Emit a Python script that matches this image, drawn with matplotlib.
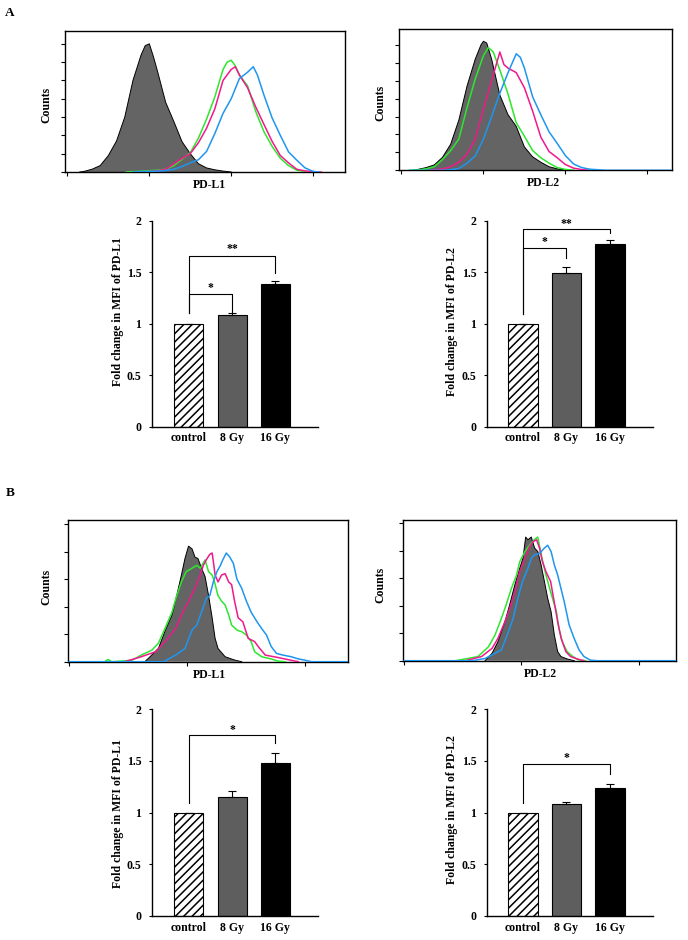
import matplotlib
matplotlib.use('Agg')
import matplotlib.pyplot as plt

plt.rcParams['font.family'] = ['Liberation Serif', 'DejaVu Serif']
plt.rcParams['font.weight'] = 'bold'
plt.rcParams['hatch.linewidth'] = 1.1

W, H = 688, 940

# ---------------- bar chart data ----------------
groups = ['control', '8 Gy', '16 Gy']
a_pdl1_mean = [1.00, 1.08, 1.385]
a_pdl1_err = [0.0, 0.022, 0.025]
a_pdl2_mean = [1.00, 1.49, 1.77]
a_pdl2_err = [0.0, 0.058, 0.042]
b_pdl1_mean = [1.00, 1.155, 1.484]
b_pdl1_err = [0.0, 0.055, 0.09]
b_pdl2_mean = [1.00, 1.081, 1.242]
b_pdl2_err = [0.0, 0.025, 0.035]

# significance brackets: (from, to, bracket height, left end, right end, label, label height)
a_pdl1_sig = [(0, 1, 1.285, 1.10, 1.107, '*', 1.375), (0, 2, 1.657, 1.10, 1.488, '**', 1.76)]
a_pdl2_sig = [(0, 1, 1.731, 1.094, 1.634, '*', 1.82), (0, 2, 1.916, 1.094, 1.877, '**', 2.0)]
b_pdl1_sig = [(0, 2, 1.752, 1.097, 1.671, '*', 1.83)]
b_pdl2_sig = [(0, 2, 1.468, 1.097, 1.371, '*', 1.56)]

# ---------------- histogram data (x: log10 fluorescence, y: counts in tick units) ----------------
# A, PD-L1
a1_gray_x = [0.15, 0.2, 0.3, 0.4, 0.5, 0.6, 0.7, 0.8, 0.9, 0.95, 1.0, 1.05, 1.1, 1.2, 1.3, 1.4, 1.5, 1.6, 1.7, 1.8, 1.9, 2.0]
a1_gray_y = [0, 0.03, 0.15, 0.35, 0.9, 1.7, 3.0, 5.0, 6.4, 6.9, 7.0, 6.3, 5.5, 3.8, 2.75, 1.65, 1.0, 0.45, 0.22, 0.12, 0.05, 0]
a1_green_x = [0.72, 0.8, 0.9, 1.0, 1.1, 1.2, 1.3, 1.4, 1.5, 1.6, 1.7, 1.8, 1.9, 1.95, 2.0, 2.05, 2.1, 2.2, 2.3, 2.4, 2.5, 2.6, 2.7, 2.8, 2.9, 3.0]
a1_green_y = [0, 0.02, 0.04, 0.07, 0.1, 0.15, 0.35, 0.7, 1.05, 1.85, 2.9, 4.1, 5.6, 6.0, 6.1, 5.8, 5.3, 4.7, 3.3, 2.2, 1.4, 0.75, 0.35, 0.1, 0.02, 0]
a1_pink_x = [0.9, 1.0, 1.1, 1.2, 1.3, 1.4, 1.5, 1.6, 1.7, 1.8, 1.9, 2.0, 2.05, 2.1, 2.2, 2.3, 2.4, 2.5, 2.6, 2.7, 2.8, 2.9, 3.0, 3.1]
a1_pink_y = [0, 0.03, 0.07, 0.15, 0.45, 0.75, 1.0, 1.6, 2.4, 3.45, 5.0, 5.6, 5.75, 5.3, 4.6, 3.55, 2.6, 1.67, 0.9, 0.5, 0.15, 0.06, 0.02, 0]
a1_blue_x = [0.8, 0.9, 1.0, 1.1, 1.2, 1.3, 1.4, 1.5, 1.6, 1.7, 1.8, 1.9, 2.0, 2.1, 2.2, 2.27, 2.32, 2.4, 2.5, 2.6, 2.7, 2.8, 2.9, 3.0, 3.07]
a1_blue_y = [0, 0.02, 0.03, 0.05, 0.08, 0.15, 0.3, 0.5, 0.67, 1.13, 2.1, 3.2, 4.0, 5.1, 5.45, 5.75, 5.3, 4.2, 2.95, 2.0, 1.1, 0.65, 0.23, 0.03, 0]
# A, PD-L2
a2_gray_x = [0.15, 0.2, 0.3, 0.4, 0.5, 0.6, 0.7, 0.8, 0.9, 0.97, 1.0, 1.04, 1.1, 1.2, 1.3, 1.4, 1.5, 1.6, 1.7, 1.8, 1.9, 2.0, 2.1]
a2_gray_y = [0, 0.05, 0.15, 0.3, 0.72, 1.45, 2.8, 4.7, 6.2, 7.0, 7.2, 7.1, 6.2, 4.2, 3.1, 2.45, 1.3, 0.75, 0.45, 0.2, 0.08, 0.02, 0]
a2_green_x = [0.1, 0.2, 0.3, 0.4, 0.5, 0.6, 0.7, 0.8, 0.9, 1.0, 1.06, 1.12, 1.2, 1.3, 1.4, 1.5, 1.6, 1.7, 1.8, 1.9, 2.0, 2.1]
a2_green_y = [0, 0.02, 0.08, 0.2, 0.6, 1.1, 1.75, 3.5, 5.1, 6.4, 6.85, 6.6, 5.6, 4.25, 2.65, 1.9, 1.1, 0.7, 0.4, 0.15, 0.05, 0]
a2_pink_x = [0.35, 0.4, 0.5, 0.6, 0.7, 0.8, 0.9, 1.0, 1.1, 1.2, 1.25, 1.3, 1.4, 1.5, 1.6, 1.7, 1.8, 1.9, 2.0, 2.1, 2.2, 2.3]
a2_pink_y = [0, 0.03, 0.07, 0.2, 0.45, 0.9, 1.75, 3.4, 5.0, 6.6, 5.9, 5.7, 5.45, 4.6, 3.3, 1.85, 1.05, 0.7, 0.32, 0.12, 0.04, 0]
a2_blue_x = [0.1, 0.5, 0.6, 0.7, 0.8, 0.9, 1.0, 1.1, 1.2, 1.3, 1.4, 1.45, 1.5, 1.6, 1.7, 1.8, 1.9, 2.0, 2.1, 2.2, 2.3, 2.4, 2.5, 3.28]
a2_blue_y = [0, 0, 0.03, 0.1, 0.4, 0.8, 1.75, 3.0, 4.3, 5.45, 6.5, 6.3, 5.7, 4.1, 3.1, 2.15, 1.5, 0.82, 0.35, 0.15, 0.06, 0.03, 0, 0]
# B, PD-L1
b1_gray_x = [0.64, 0.67, 0.755, 0.81, 0.87, 0.91, 0.95, 0.98, 1.01, 1.04, 1.065, 1.09, 1.12, 1.15, 1.18, 1.21, 1.235, 1.26, 1.32, 1.40, 1.46]
b1_gray_y = [0, 0.12, 0.48, 1.1, 1.7, 2.4, 3.15, 3.75, 4.2, 4.1, 3.8, 3.75, 3.4, 3.1, 2.4, 1.6, 0.85, 0.48, 0.18, 0.06, 0]
b1_green_x = [0.30, 0.33, 0.36, 0.53, 0.61, 0.70, 0.755, 0.81, 0.87, 0.91, 0.95, 0.99, 1.04, 1.08, 1.11, 1.15, 1.18, 1.21, 1.23, 1.26, 1.29, 1.32, 1.35, 1.375, 1.42, 1.46, 1.50, 1.54, 1.57, 1.63, 1.71, 1.77, 1.83]
b1_green_y = [0, 0.08, 0, 0.05, 0.24, 0.42, 0.67, 1.2, 1.8, 2.4, 2.9, 3.27, 3.4, 3.5, 3.4, 3.7, 3.27, 3.15, 2.9, 2.4, 2.2, 2.06, 1.7, 1.33, 1.15, 1.09, 0.97, 0.73, 0.36, 0.18, 0.1, 0.02, 0]
b1_pink_x = [0.47, 0.61, 0.73, 0.81, 0.90, 0.95, 1.01, 1.065, 1.11, 1.135, 1.16, 1.19, 1.21, 1.22, 1.235, 1.26, 1.29, 1.32, 1.35, 1.375, 1.40, 1.43, 1.47, 1.515, 1.57, 1.60, 1.66, 1.77, 1.88, 1.94]
b1_pink_y = [0, 0.18, 0.36, 0.73, 1.2, 1.7, 2.2, 2.67, 3.15, 3.5, 3.7, 3.9, 3.95, 3.65, 3.15, 2.9, 3.15, 3.2, 2.9, 2.8, 2.2, 1.6, 1.45, 0.85, 0.73, 0.55, 0.24, 0.15, 0.05, 0]
b1_blue_x = [0.0, 0.80, 0.90, 0.98, 1.04, 1.08, 1.12, 1.16, 1.19, 1.22, 1.25, 1.28, 1.30, 1.33, 1.36, 1.39, 1.42, 1.46, 1.50, 1.54, 1.59, 1.63, 1.67, 1.71, 1.755, 1.81, 1.88, 1.94, 1.99, 2.05, 2.37]
b1_blue_y = [0, 0, 0.24, 0.48, 1.15, 1.33, 1.8, 2.3, 2.4, 2.9, 3.27, 3.5, 3.7, 3.95, 3.8, 3.57, 3.0, 2.67, 2.2, 1.8, 1.45, 1.2, 0.97, 0.55, 0.3, 0.24, 0.18, 0.1, 0.06, 0, 0]
# B, PD-L2
b2_gray_x = [0.69, 0.75, 0.80, 0.86, 0.90, 0.944, 0.986, 1.014, 1.037, 1.056, 1.085, 1.113, 1.141, 1.169, 1.197, 1.225, 1.254, 1.282, 1.31, 1.338, 1.394, 1.451]
b2_gray_y = [0, 0.27, 0.69, 1.42, 2.03, 2.75, 3.36, 3.73, 4.5, 4.4, 4.5, 4.1, 3.97, 3.48, 2.88, 2.27, 1.78, 0.93, 0.33, 0.15, 0.06, 0]
b2_green_x = [0.44, 0.63, 0.72, 0.775, 0.83, 0.87, 0.915, 0.96, 0.986, 1.03, 1.07, 1.11, 1.14, 1.17, 1.21, 1.25, 1.30, 1.32, 1.35, 1.39, 1.44, 1.49, 1.55]
b2_green_y = [0, 0.15, 0.51, 0.93, 1.54, 2.03, 2.63, 3.12, 3.6, 3.97, 4.2, 4.4, 4.5, 3.85, 3.12, 2.5, 1.78, 1.18, 0.69, 0.33, 0.15, 0.02, 0]
b2_pink_x = [0.52, 0.66, 0.75, 0.80, 0.86, 0.90, 0.944, 0.986, 1.03, 1.07, 1.10, 1.13, 1.155, 1.18, 1.21, 1.25, 1.28, 1.31, 1.34, 1.38, 1.42, 1.48, 1.535]
b2_pink_y = [0, 0.15, 0.45, 0.81, 1.42, 1.9, 2.5, 3.24, 3.73, 4.15, 4.33, 4.4, 4.1, 3.6, 3.24, 2.88, 2.15, 1.42, 0.81, 0.33, 0.15, 0.06, 0]
b2_blue_x = [0.0, 0.58, 0.69, 0.775, 0.83, 0.89, 0.93, 0.97, 1.01, 1.056, 1.085, 1.113, 1.155, 1.197, 1.225, 1.254, 1.282, 1.31, 1.338, 1.366, 1.408, 1.451, 1.493, 1.535, 1.59, 1.65, 2.31]
b2_blue_y = [0, 0, 0.08, 0.27, 0.39, 1.06, 1.54, 2.27, 2.88, 3.36, 3.73, 3.85, 3.9, 4.1, 4.2, 3.97, 3.48, 3.12, 2.63, 2.15, 1.3, 0.81, 0.39, 0.15, 0.02, 0, 0]

# ---------------- styles ----------------
GREEN = '#2ee62e'
PINK = '#f0198c'
BLUE = '#1e96f0'
GRAY_FILL = '#646464'
BAR_COLORS = ['white', '#5e5e5e', 'black']
FS = 8.5

fig = plt.figure(figsize=(W / 100, H / 100), dpi=100)


def rect(left, top, right, bottom):
    return [left / W, 1 - bottom / H, (right - left) / W, (bottom - top) / H]


def ftext(x, y, s, **kw):
    fig.text(x / W, 1 - y / H, s, fontsize=FS, fontweight='bold', ha='center', va='center', **kw)


def hist_panel(r, xlim, ylim, xticks, yticks, gray, lines, xlabel, xlabel_xy, counts_xy):
    ax = fig.add_axes(rect(*r))
    gx, gy = gray
    ax.fill_between(gx, gy, 0, facecolor=GRAY_FILL, edgecolor='none', zorder=2)
    ax.plot(gx, gy, color='black', lw=0.7, zorder=3)
    for (lx, ly), c in lines:
        ax.plot(lx, ly, color=c, lw=1.1, zorder=4)
    ax.set_xlim(*xlim)
    ax.set_ylim(*ylim)
    ax.set_xticks(xticks)
    ax.set_yticks(yticks)
    ax.set_xticklabels([])
    ax.set_yticklabels([])
    ax.tick_params(direction='out', length=3, width=0.8)
    for s in ax.spines.values():
        s.set_linewidth(1.0)
    ftext(*xlabel_xy, xlabel)
    ftext(*counts_xy, 'Counts', rotation=90)
    return ax


def bar_panel(r, xlim, means, errs, sig, ylabel, ylabel_xy):
    ax = fig.add_axes(rect(*r))
    x = list(range(len(groups)))
    bars = ax.bar(x, means, width=0.67, color=BAR_COLORS, edgecolor='black', linewidth=0.8, zorder=2)
    bars[0].set_hatch('////')
    ax.errorbar(x, means, yerr=[[0] * len(errs), errs], fmt='none', ecolor='black',
                elinewidth=0.8, capsize=2.8, capthick=0.8, zorder=3)
    for i, j, yh, yl, yr, lab, ylab in sig:
        ax.plot([i, i, j, j], [yl, yh, yh, yr], color='black', lw=0.8, clip_on=False, zorder=3)
        ax.text((i + j) / 2, ylab - 0.06, lab, ha='center', va='baseline', fontsize=FS, fontweight='bold')
    ax.set_xlim(*xlim)
    ax.set_ylim(0, 2)
    ax.set_yticks([0, 0.5, 1, 1.5, 2])
    ax.set_yticklabels(['0', '0.5', '1', '1.5', '2'], fontsize=FS, fontweight='bold')
    ax.set_xticks(x)
    ax.set_xticklabels(groups, fontsize=FS, fontweight='bold')
    ax.tick_params(axis='y', direction='out', length=2.5, width=0.8, pad=5)
    ax.tick_params(axis='x', length=0, pad=4)
    ax.spines['top'].set_visible(False)
    ax.spines['right'].set_visible(False)
    ax.spines['left'].set_linewidth(1.0)
    ax.spines['bottom'].set_linewidth(1.0)
    ftext(*ylabel_xy, ylabel, rotation=90)
    return ax


# Panel A histograms
hist_panel((65, 31, 345, 172), (-0.03, 3.39), (0, 7.7), [0, 1, 2, 3], range(8),
           (a1_gray_x, a1_gray_y),
           [((a1_green_x, a1_green_y), GREEN), ((a1_pink_x, a1_pink_y), PINK), ((a1_blue_x, a1_blue_y), BLUE)],
           'PD-L1', (209.7, 185), (46.7, 105))
hist_panel((399, 28.7, 672, 170.3), (-0.03, 3.30), (0, 7.9), [0, 1, 2, 3], range(8),
           (a2_gray_x, a2_gray_y),
           [((a2_green_x, a2_green_y), GREEN), ((a2_pink_x, a2_pink_y), PINK), ((a2_blue_x, a2_blue_y), BLUE)],
           'PD-L2', (543, 183.5), (380.7, 103))

# Panel A bars
bar_panel((151.7, 220.7, 317.8, 426.7), (-0.857, 2.98), a_pdl1_mean, a_pdl1_err, a_pdl1_sig,
          'Fold change in MFI of PD-L1', (118, 312))
bar_panel((486.7, 220.7, 652.6, 426.7), (-0.834, 2.98), a_pdl2_mean, a_pdl2_err, a_pdl2_sig,
          'Fold change in MFI of PD-L2', (451.7, 322))

# Panel B histograms
hist_panel((68, 520, 348, 661.7), (-0.01, 2.36), (0, 5.15), [0, 1, 2], range(6),
           (b1_gray_x, b1_gray_y),
           [((b1_green_x, b1_green_y), GREEN), ((b1_pink_x, b1_pink_y), PINK), ((b1_blue_x, b1_blue_y), BLUE)],
           'PD-L1', (209.3, 675), (46.7, 586.7))
hist_panel((403, 520, 676, 660.7), (-0.01, 2.32), (0, 5.12), [0, 1, 2], range(6),
           (b2_gray_x, b2_gray_y),
           [((b2_green_x, b2_green_y), GREEN), ((b2_pink_x, b2_pink_y), PINK), ((b2_blue_x, b2_blue_y), BLUE)],
           'PD-L2', (540.7, 674), (380.7, 585))

# Panel B bars
bar_panel((151.7, 709.3, 317.8, 916), (-0.857, 2.98), b_pdl1_mean, b_pdl1_err, b_pdl1_sig,
          'Fold change in MFI of PD-L1', (118, 814))
bar_panel((486.7, 709.3, 652.6, 916), (-0.834, 2.98), b_pdl2_mean, b_pdl2_err, b_pdl2_sig,
          'Fold change in MFI of PD-L2', (451.7, 810))

# panel letters
fig.text(10 / W, 1 - 12.5 / H, 'A', fontsize=9.5, fontweight='bold', ha='center', va='center')
fig.text(10 / W, 1 - 493 / H, 'B', fontsize=9.5, fontweight='bold', ha='center', va='center')

fig.savefig('out.png', dpi=100, facecolor='white')
